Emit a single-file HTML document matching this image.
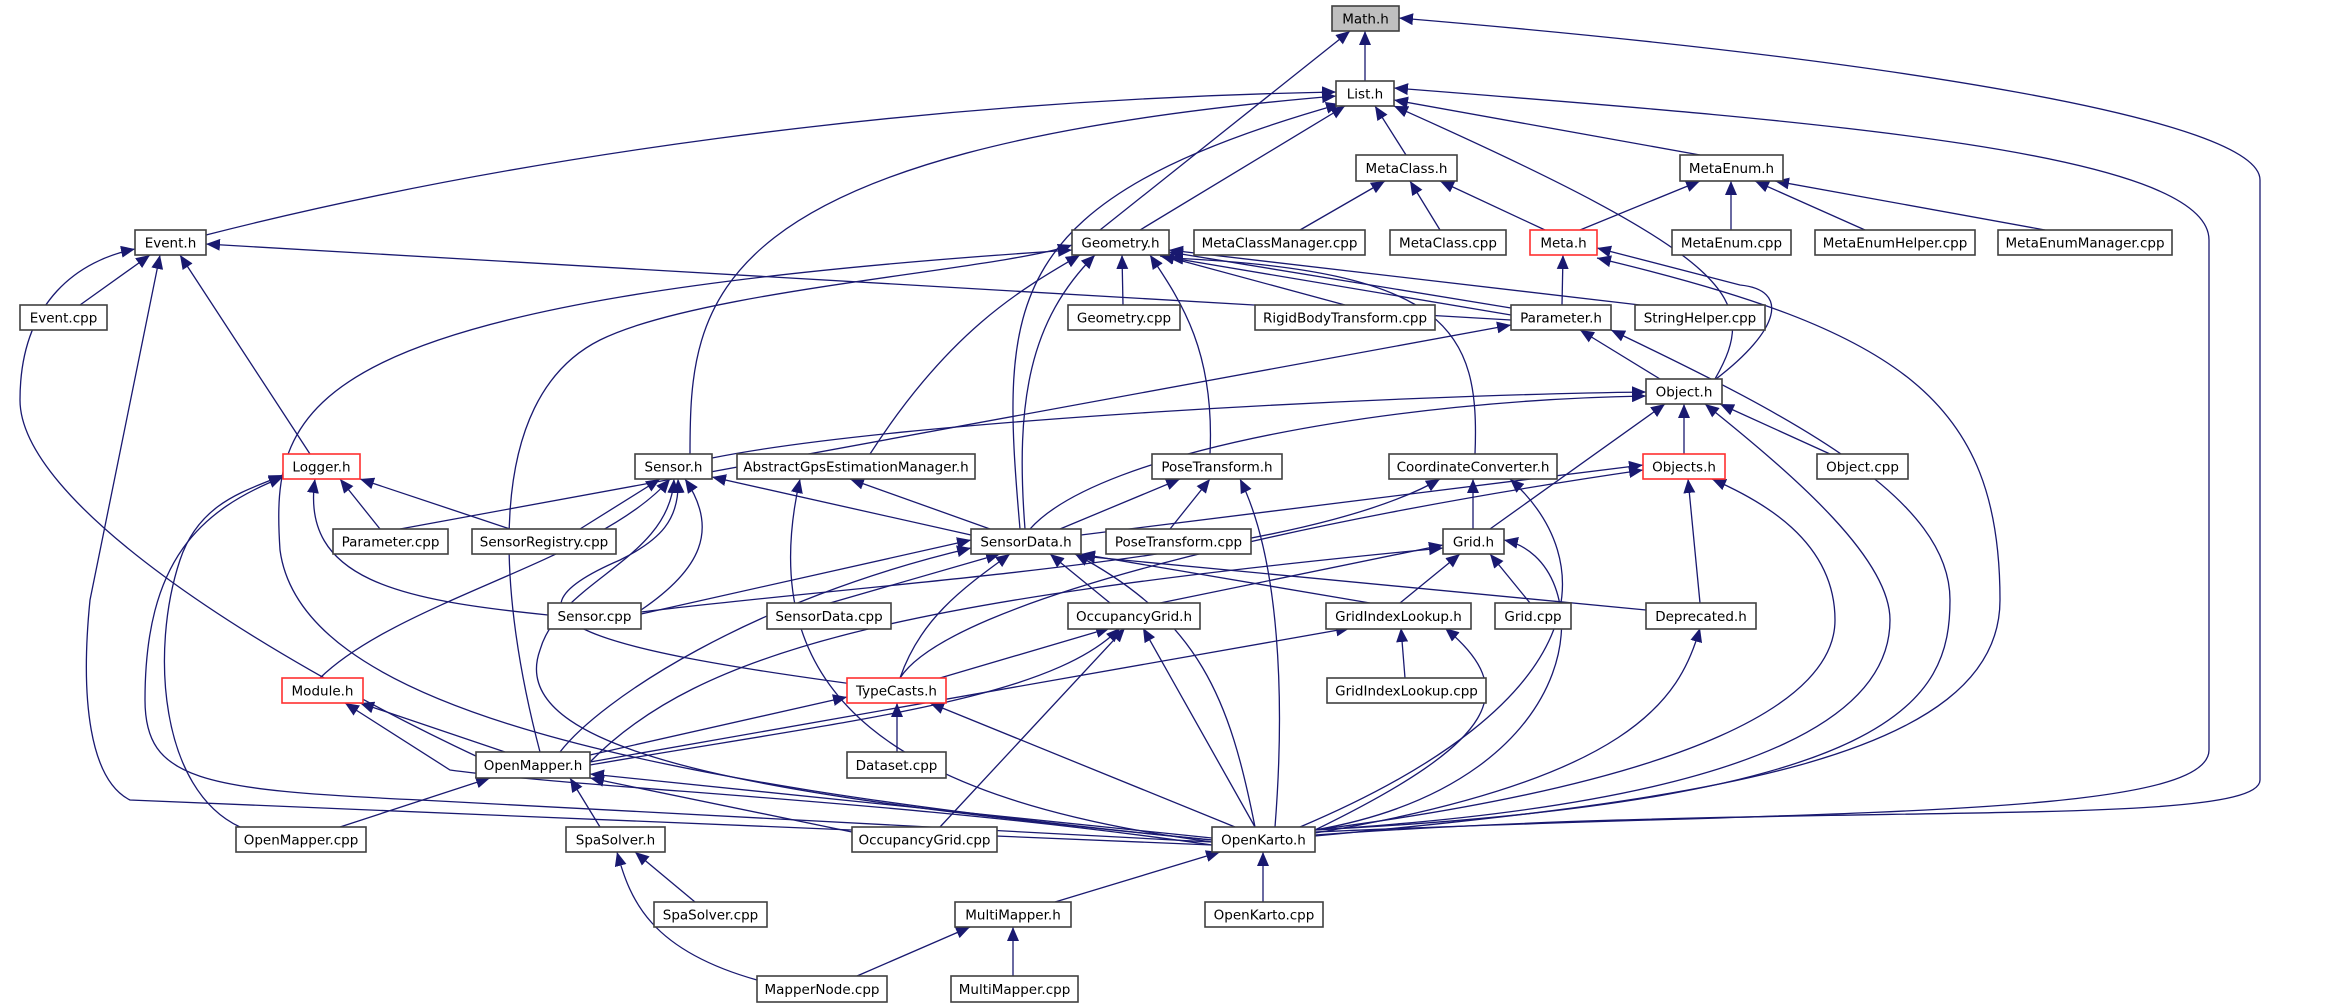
<!DOCTYPE html>
<html><head><meta charset="utf-8"><style>
html,body{margin:0;padding:0;background:#fff;}
svg{display:block;}
text{font-family:"DejaVu Sans","Liberation Sans",sans-serif;font-size:13.5px;fill:#000;text-anchor:middle;}
.n{fill:#fff;stroke:#404040;stroke-width:1.6;}
.r{fill:#fff;stroke:#ff3030;stroke-width:1.6;}
.g{fill:#bfbfbf;stroke:#404040;stroke-width:1.6;}
path{fill:none;stroke:#191970;stroke-width:1.3;marker-end:url(#a);}
</style></head><body>
<svg width="2341" height="1008" viewBox="0 0 2341 1008" xmlns="http://www.w3.org/2000/svg">
<defs><marker id="a" markerUnits="userSpaceOnUse" markerWidth="16" markerHeight="12" refX="14" refY="6" orient="auto"><polygon points="0,0 14,6 0,12" fill="#191970"/></marker></defs>
<g>
<path d="M1365 81 L1365 31"/>
<path d="M1100 230 L1350 31"/>
<path d="M1315 835 C1800 800 2260 830 2260 780 L2260 180 C2260 120 1900 60 1399 18"/>
<path d="M206 235 C500 160 900 100 1336 92"/>
<path d="M1140 230 L1345 106"/>
<path d="M690 454 C690 300 700 150 1336 96"/>
<path d="M1020 529 C1000 300 1000 200 1340 104"/>
<path d="M1406 155 L1375 106"/>
<path d="M1700 155 L1394 100"/>
<path d="M1715 379 C1760 300 1740 260 1394 106"/>
<path d="M1315 832 C1800 810 2209 820 2209 750 L2209 240 C2209 150 1800 120 1394 88"/>
<path d="M1300 230 L1385 181"/>
<path d="M1440 230 L1410 181"/>
<path d="M1545 230 L1440 181"/>
<path d="M1580 230 L1700 181"/>
<path d="M1731 230 L1731 181"/>
<path d="M1865 230 L1755 181"/>
<path d="M2045 230 L1775 181"/>
<path d="M1562 305 L1563 255"/>
<path d="M1716 379 C1780 330 1790 290 1740 285 L1597 248"/>
<path d="M1315 836 C1700 800 2000 760 2000 600 C2000 400 1900 330 1597 258"/>
<path d="M80 305 L150 255"/>
<path d="M310 454 L180 255"/>
<path d="M480 758 C250 650 20 500 20 400 C20 300 80 260 135 249"/>
<path d="M1212 845 L130 800 C90 780 80 700 90 600 L160 255"/>
<path d="M1511 320 L206 244"/>
<path d="M1123 305 L1122 255"/>
<path d="M1345 305 L1160 255"/>
<path d="M1511 308 L1169 252"/>
<path d="M1511 315 L1160 256"/>
<path d="M1640 305 L1169 250"/>
<path d="M1025 529 C1015 400 1030 320 1095 255"/>
<path d="M1210 454 C1215 350 1180 300 1150 255"/>
<path d="M870 454 C950 330 1020 290 1080 255"/>
<path d="M1475 454 C1480 330 1450 270 1169 258"/>
<path d="M540 752 C500 600 480 400 600 340 C700 290 1000 270 1072 245"/>
<path d="M1212 840 C600 780 300 700 280 550 C270 400 300 300 1072 250"/>
<path d="M400 529 L1511 325"/>
<path d="M1660 379 L1580 330"/>
<path d="M1315 830 C1900 800 1950 700 1950 600 C1950 500 1800 420 1611 330"/>
<path d="M712 458 C900 420 1400 395 1646 392"/>
<path d="M1030 529 C1100 450 1400 400 1646 396"/>
<path d="M1684 454 L1684 404"/>
<path d="M1830 454 L1720 404"/>
<path d="M1490 529 L1665 404"/>
<path d="M1315 830 C1800 800 1890 700 1890 620 C1890 560 1800 480 1705 404"/>
<path d="M380 529 L340 479"/>
<path d="M510 529 L360 479"/>
<path d="M548 615 C400 600 300 580 315 479"/>
<path d="M240 827 C160 790 150 650 180 560 C200 500 250 490 283 475"/>
<path d="M1212 842 L420 800 C200 790 145 780 145 700 C145 560 200 510 283 477"/>
<path d="M580 529 L660 479"/>
<path d="M641 610 C700 570 720 530 685 479"/>
<path d="M320 678 C400 600 600 560 670 479"/>
<path d="M971 535 L712 477"/>
<path d="M860 685 C600 650 480 620 620 560 C660 540 680 520 678 479"/>
<path d="M1212 840 C800 800 500 760 540 650 C560 580 670 560 674 479"/>
<path d="M990 529 L850 479"/>
<path d="M1212 842 C900 800 750 700 800 479"/>
<path d="M1060 529 L1180 479"/>
<path d="M1170 529 L1210 479"/>
<path d="M1275 827 C1285 700 1280 560 1240 479"/>
<path d="M1473 529 L1473 479"/>
<path d="M641 612 C900 580 1300 560 1440 479"/>
<path d="M1300 827 C1600 700 1600 560 1510 479"/>
<path d="M1081 535 L1643 465"/>
<path d="M900 678 C950 600 1300 520 1643 470"/>
<path d="M1700 603 L1688 479"/>
<path d="M1315 830 C1700 780 1835 700 1835 620 C1835 540 1760 500 1712 479"/>
<path d="M641 614 L971 540"/>
<path d="M830 603 L1000 554"/>
<path d="M1110 603 L1050 554"/>
<path d="M900 678 C920 620 960 590 1010 554"/>
<path d="M560 752 C600 700 750 600 971 548"/>
<path d="M1370 603 L1081 554"/>
<path d="M1646 610 L1081 556"/>
<path d="M1255 827 C1230 700 1200 620 1075 554"/>
<path d="M1160 603 L1443 545"/>
<path d="M1400 603 L1460 554"/>
<path d="M1530 603 L1490 554"/>
<path d="M590 762 C700 650 900 600 1443 548"/>
<path d="M1315 830 C1600 780 1600 560 1504 540"/>
<path d="M940 678 L1110 628"/>
<path d="M590 765 C850 720 1050 700 1120 628"/>
<path d="M940 827 L1125 628"/>
<path d="M1255 827 L1143 628"/>
<path d="M1405 678 L1401 628"/>
<path d="M590 762 L1350 628"/>
<path d="M1315 830 C1500 740 1520 690 1445 628"/>
<path d="M590 755 L847 697"/>
<path d="M897 752 L897 703"/>
<path d="M1235 827 L930 703"/>
<path d="M1315 833 C1630 780 1680 700 1700 628"/>
<path d="M505 752 L360 703"/>
<path d="M1212 845 C900 800 600 790 450 770 L345 703"/>
<path d="M340 827 L490 778"/>
<path d="M600 827 L570 778"/>
<path d="M852 832 L590 778"/>
<path d="M1212 838 L590 774"/>
<path d="M695 902 L635 852"/>
<path d="M757 980 C650 950 630 900 617 852"/>
<path d="M1055 902 L1220 852"/>
<path d="M1263 902 L1263 852"/>
<path d="M857 976 L970 927"/>
<path d="M1013 976 L1013 927"/>
</g>
<g>
<rect class="g" x="1332" y="6" width="67" height="25"/><text x="1365.5" y="23.5">Math.h</text>
<rect class="n" x="1336" y="81" width="58" height="25"/><text x="1365" y="98.5">List.h</text>
<rect class="n" x="1356" y="155" width="101" height="26"/><text x="1406.5" y="173">MetaClass.h</text>
<rect class="n" x="1680" y="155" width="103" height="26"/><text x="1731.5" y="173">MetaEnum.h</text>
<rect class="n" x="135" y="230" width="71" height="25"/><text x="170.5" y="247.5">Event.h</text>
<rect class="n" x="1072" y="230" width="97" height="25"/><text x="1120.5" y="247.5">Geometry.h</text>
<rect class="n" x="1194" y="230" width="171" height="25"/><text x="1279.5" y="247.5">MetaClassManager.cpp</text>
<rect class="n" x="1390" y="230" width="116" height="25"/><text x="1448" y="247.5">MetaClass.cpp</text>
<rect class="r" x="1530" y="230" width="67" height="25"/><text x="1563.5" y="247.5">Meta.h</text>
<rect class="n" x="1672" y="230" width="119" height="25"/><text x="1731.5" y="247.5">MetaEnum.cpp</text>
<rect class="n" x="1815" y="230" width="160" height="25"/><text x="1895" y="247.5">MetaEnumHelper.cpp</text>
<rect class="n" x="1998" y="230" width="174" height="25"/><text x="2085" y="247.5">MetaEnumManager.cpp</text>
<rect class="n" x="20" y="305" width="87" height="25"/><text x="63.5" y="322.5">Event.cpp</text>
<rect class="n" x="1068" y="305" width="112" height="25"/><text x="1124" y="322.5">Geometry.cpp</text>
<rect class="n" x="1255" y="305" width="180" height="25"/><text x="1345" y="322.5">RigidBodyTransform.cpp</text>
<rect class="n" x="1511" y="305" width="100" height="25"/><text x="1561" y="322.5">Parameter.h</text>
<rect class="n" x="1635" y="305" width="130" height="25"/><text x="1700" y="322.5">StringHelper.cpp</text>
<rect class="n" x="1646" y="379" width="76" height="25"/><text x="1684" y="396.5">Object.h</text>
<rect class="r" x="283" y="454" width="77" height="25"/><text x="321.5" y="471.5">Logger.h</text>
<rect class="n" x="635" y="454" width="77" height="25"/><text x="673.5" y="471.5">Sensor.h</text>
<rect class="n" x="737" y="454" width="238" height="25"/><text x="856" y="471.5">AbstractGpsEstimationManager.h</text>
<rect class="n" x="1152" y="454" width="130" height="25"/><text x="1217" y="471.5">PoseTransform.h</text>
<rect class="n" x="1389" y="454" width="168" height="25"/><text x="1473" y="471.5">CoordinateConverter.h</text>
<rect class="r" x="1643" y="454" width="82" height="25"/><text x="1684" y="471.5">Objects.h</text>
<rect class="n" x="1817" y="454" width="91" height="25"/><text x="1862.5" y="471.5">Object.cpp</text>
<rect class="n" x="333" y="529" width="115" height="25"/><text x="390.5" y="546.5">Parameter.cpp</text>
<rect class="n" x="472" y="529" width="144" height="25"/><text x="544" y="546.5">SensorRegistry.cpp</text>
<rect class="n" x="971" y="529" width="110" height="25"/><text x="1026" y="546.5">SensorData.h</text>
<rect class="n" x="1106" y="529" width="145" height="25"/><text x="1178.5" y="546.5">PoseTransform.cpp</text>
<rect class="n" x="1443" y="529" width="61" height="25"/><text x="1473.5" y="546.5">Grid.h</text>
<rect class="n" x="548" y="603" width="93" height="26"/><text x="594.5" y="621">Sensor.cpp</text>
<rect class="n" x="767" y="603" width="124" height="26"/><text x="829" y="621">SensorData.cpp</text>
<rect class="n" x="1068" y="603" width="132" height="26"/><text x="1134" y="621">OccupancyGrid.h</text>
<rect class="n" x="1326" y="603" width="145" height="26"/><text x="1398.5" y="621">GridIndexLookup.h</text>
<rect class="n" x="1495" y="603" width="76" height="26"/><text x="1533" y="621">Grid.cpp</text>
<rect class="n" x="1646" y="603" width="110" height="26"/><text x="1701" y="621">Deprecated.h</text>
<rect class="r" x="282" y="678" width="81" height="25"/><text x="322.5" y="695.5">Module.h</text>
<rect class="r" x="847" y="678" width="99" height="25"/><text x="896.5" y="695.5">TypeCasts.h</text>
<rect class="n" x="1327" y="678" width="159" height="25"/><text x="1406.5" y="695.5">GridIndexLookup.cpp</text>
<rect class="n" x="476" y="752" width="114" height="26"/><text x="533" y="770">OpenMapper.h</text>
<rect class="n" x="847" y="752" width="99" height="26"/><text x="896.5" y="770">Dataset.cpp</text>
<rect class="n" x="236" y="827" width="130" height="25"/><text x="301" y="844.5">OpenMapper.cpp</text>
<rect class="n" x="566" y="827" width="99" height="25"/><text x="615.5" y="844.5">SpaSolver.h</text>
<rect class="n" x="852" y="827" width="145" height="25"/><text x="924.5" y="844.5">OccupancyGrid.cpp</text>
<rect class="n" x="1212" y="827" width="103" height="25"/><text x="1263.5" y="844.5">OpenKarto.h</text>
<rect class="n" x="654" y="902" width="113" height="25"/><text x="710.5" y="919.5">SpaSolver.cpp</text>
<rect class="n" x="955" y="902" width="116" height="25"/><text x="1013" y="919.5">MultiMapper.h</text>
<rect class="n" x="1205" y="902" width="118" height="25"/><text x="1264" y="919.5">OpenKarto.cpp</text>
<rect class="n" x="757" y="976" width="130" height="26"/><text x="822" y="994">MapperNode.cpp</text>
<rect class="n" x="951" y="976" width="127" height="26"/><text x="1014.5" y="994">MultiMapper.cpp</text>
</g>
</svg>
</body></html>
